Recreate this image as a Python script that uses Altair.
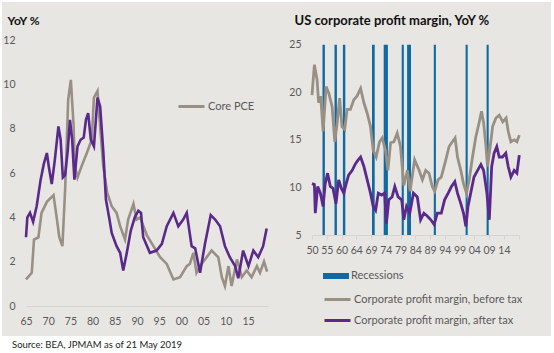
import altair as alt
import pandas as pd

# ---------------- Left panel: YoY % ----------------
pce_years = [1965.0, 1966.3, 1966.8, 1967.8, 1968.5, 1969.7, 1971.2, 1971.9, 1972.5, 1973.2,
             1973.8, 1974.2, 1974.5, 1975.1, 1975.7, 1976.0, 1976.6, 1977.5, 1978.7, 1979.8,
             1980.3, 1981.1, 1981.7, 1982.4, 1983.3, 1984.3, 1985.4, 1986.2, 1987.3, 1988.0,
             1989.2, 1989.9, 1990.7, 1992.2, 1993.7, 1995.2, 1996.7, 1998.2, 1999.7, 2001.2,
             2001.9, 2002.7, 2003.4, 2004.2, 2005.3, 2006.8, 2008.3, 2009.1, 2009.8, 2010.6,
             2011.3, 2012.5, 2013.6, 2014.7, 2015.8, 2017.0, 2017.7, 2018.6, 2019.3]
pce_values = [1.2, 1.5, 3.0, 3.1, 4.2, 4.7, 5.0, 4.0, 3.1, 2.7,
              5.2, 7.5, 9.3, 10.2, 8.2, 6.3, 5.8, 6.3, 6.9, 7.5,
              9.4, 9.7, 8.1, 6.3, 5.1, 4.5, 4.2, 3.6, 3.0, 3.9,
              4.6, 3.9, 4.0, 3.2, 2.7, 2.2, 1.9, 1.2, 1.3, 1.8,
              1.9, 2.4, 1.5, 1.8, 2.1, 2.5, 2.2, 1.3, 0.9, 1.8,
              0.9, 2.1, 1.3, 1.6, 1.3, 1.8, 1.5, 2.0, 1.55]

other_years = [1965.0, 1965.3, 1965.9, 1966.6, 1967.4, 1968.3, 1969.0, 1969.7, 1970.2, 1970.8,
               1971.5, 1972.3, 1972.8, 1973.3, 1973.8, 1974.4, 1974.9, 1975.4, 1975.9, 1976.6,
               1977.3, 1978.0, 1978.5, 1979.0, 1979.6, 1980.3, 1981.1, 1981.7, 1982.4, 1983.0,
               1983.8, 1984.3, 1985.4, 1986.2, 1986.9, 1987.7, 1988.6, 1989.5, 1990.3, 1990.9,
               1991.4, 1992.9, 1994.4, 1995.6, 1996.7, 1998.2, 1999.3, 2000.4, 2001.2, 2002.3,
               2003.1, 2004.2, 2005.3, 2006.6, 2007.6, 2008.7, 2009.8, 2010.9, 2012.1, 2012.8,
               2013.9, 2015.1, 2016.2, 2017.3, 2018.4, 2019.2]
other_values = [3.1, 4.0, 4.2, 3.8, 4.5, 5.7, 6.4, 6.9, 6.2, 5.5,
                6.6, 8.1, 7.5, 5.8, 5.9, 7.0, 8.4, 7.5, 5.7, 7.2,
                7.5, 7.6, 8.4, 8.7, 7.5, 7.2, 9.4, 9.0, 7.0, 4.8,
                3.9, 3.3, 2.7, 2.4, 1.6, 2.4, 3.4, 4.0, 4.3, 4.2,
                3.1, 2.4, 2.5, 2.8, 3.6, 4.2, 3.6, 3.9, 4.2, 2.7,
                2.6, 1.5, 2.8, 4.1, 3.9, 3.6, 2.7, 2.2, 1.8, 1.25,
                2.5, 1.8, 2.5, 2.2, 2.7, 3.5]

left_series = ["Core PCE", "Headline PCE"]
left_tick_years = [1965, 1970, 1975, 1980, 1985, 1990, 1995, 2000, 2005, 2010, 2015]
left_tick_labels = ["65", "70", "75", "80", "85", "90", "95", "00", "05", "10", "15"]
left_y_ticks = [0, 2, 4, 6, 8, 10, 12]

# ---------------- Right panel: US corporate profit margin ----------------
before_years = [1950.0, 1950.8, 1951.7, 1952.2, 1952.9, 1953.7, 1954.7, 1955.6, 1956.7, 1957.6,
                1958.4, 1959.2, 1960.0, 1960.9, 1961.7, 1962.8, 1963.9, 1965.0, 1966.2, 1967.3,
                1968.4, 1969.5, 1970.4, 1971.4, 1972.5, 1973.4, 1974.5, 1975.3, 1976.2, 1977.3,
                1978.4, 1979.5, 1980.6, 1981.8, 1982.7, 1984.2, 1985.7, 1986.8, 1987.9, 1989.0,
                1990.1, 1990.9, 1992.0, 1993.1, 1994.6, 1995.7, 1996.8, 1997.7, 1998.5, 1999.6,
                2000.5, 2001.5, 2002.4, 2003.5, 2004.6, 2005.7, 2006.5, 2007.2, 2008.0, 2008.5,
                2009.4, 2010.2, 2011.3, 2012.4, 2013.6, 2014.7, 2015.4, 2016.3, 2017.4, 2018.3,
                2019.1]
before_values = [19.7, 22.9, 21.3, 18.9, 19.6, 15.9, 20.6, 19.9, 18.5, 14.8,
                 16.8, 19.4, 16.4, 16.1, 18.2, 18.2, 19.2, 19.6, 20.4, 18.9,
                 17.8, 16.4, 13.9, 13.2, 14.8, 15.2, 13.9, 11.8, 14.7, 14.8,
                 15.7, 14.3, 10.2, 11.8, 9.6, 12.9, 11.8, 10.8, 11.8, 11.5,
                 10.1, 9.6, 10.8, 11.1, 12.9, 14.3, 14.8, 15.2, 13.2, 11.8,
                 10.4, 9.4, 10.8, 13.2, 15.3, 16.8, 18.0, 16.8, 14.3, 12.2,
                 14.3, 16.4, 17.3, 17.6, 16.9, 17.3, 15.9, 14.8, 15.0, 14.8,
                 15.5]

after_years = [1950.0, 1950.8, 1951.1, 1951.9, 1952.8, 1953.7, 1954.4, 1955.2, 1956.1, 1957.0,
               1958.0, 1958.9, 1959.8, 1960.6, 1961.4, 1962.2, 1963.4, 1964.5, 1965.4, 1966.2,
               1967.3, 1968.4, 1969.5, 1970.4, 1971.2, 1972.1, 1973.2, 1974.2, 1974.8, 1975.6,
               1976.7, 1977.6, 1978.7, 1979.9, 1980.6, 1981.5, 1982.6, 1983.8, 1985.1, 1986.2,
               1987.3, 1988.4, 1989.6, 1990.7, 1991.8, 1993.1, 1994.2, 1995.4, 1996.5, 1997.6,
               1998.5, 1999.6, 2000.5, 2001.3, 2002.0, 2002.9, 2004.0, 2005.2, 2006.3, 2007.2,
               2008.3, 2009.1, 2009.9, 2010.7, 2011.6, 2012.4, 2013.5, 2014.6, 2015.4, 2016.3,
               2017.4, 2018.3, 2019.1]
after_values = [10.4, 10.3, 7.3, 10.1, 9.4, 8.0, 10.4, 11.5, 10.1, 9.9,
                8.3, 10.8, 9.9, 9.4, 10.4, 11.3, 11.8, 12.5, 12.9, 13.2,
                12.2, 10.8, 9.4, 8.0, 7.6, 9.4, 9.2, 9.4, 6.2, 8.7,
                9.0, 10.1, 9.0, 8.7, 6.6, 8.0, 7.3, 9.4, 9.0, 6.6,
                7.3, 7.0, 6.6, 6.1, 7.3, 7.3, 8.7, 9.4, 10.1, 10.6,
                9.4, 8.3, 7.3, 5.9, 8.0, 9.4, 11.1, 11.8, 12.4, 11.8,
                9.4, 6.6, 12.2, 13.6, 14.3, 13.2, 13.2, 13.6, 12.2, 11.1,
                11.8, 11.5, 13.4]

rec_start = [1953.5, 1957.5, 1960.3, 1970.0, 1973.9, 1979.9, 1981.7, 1990.6, 2001.2, 2008.2]
rec_end = [1954.3, 1958.3, 1961.1, 1970.9, 1975.3, 1980.6, 1983.0, 1991.3, 2001.9, 2008.9]

right_series = ["Corporate profit margin, before tax", "Corporate profit margin, after tax"]
right_tick_labels = ["50", "55", "60", "64", "69", "74", "79", "84", "89", "94", "99", "04", "09", "14", ""]
right_y_ticks = [5, 10, 15, 20, 25]

# ---------------- styling ----------------
BG = "#e8e6e3"
GRAY = "#988f85"
PURPLE = "#59298b"
BLUE = "#0f69a2"
LABEL = "#595959"
FONT = "Lato"

left_df = pd.DataFrame({
    "year": pce_years + other_years,
    "value": pce_values + other_values,
    "series": [left_series[0]] * len(pce_years) + [left_series[1]] * len(other_years),
})
right_df = pd.DataFrame({
    "year": before_years + after_years,
    "value": before_values + after_values,
    "series": [right_series[0]] * len(before_years) + [right_series[1]] * len(after_years),
})
rec_df = pd.DataFrame({"start": rec_start, "end": rec_end, "label": ["Recessions"] * len(rec_start)})

left_label_expr = "[" + ",".join(f"'{s}'" for s in left_tick_labels) + "][round((datum.value - 1965) / 5)]"
step_r = 4.92
right_tick_pos = [round(1950 + i * step_r, 2) for i in range(len(right_tick_labels))]
right_label_expr = "[" + ",".join(f"'{s}'" for s in right_tick_labels) + f"][round((datum.value - 1950) / {step_r})]"

# ---- left chart ----
lx = alt.X("year:Q", scale=alt.Scale(domain=[1965, 2019.5], nice=False, zero=False),
           axis=alt.Axis(values=left_tick_years, labelExpr=left_label_expr, title=None,
                         domainColor="#d6d4d1", ticks=False, grid=False, labelPadding=10,
                         labelFontSize=10.5, labelColor=LABEL, labelFont=FONT, labelFlush=False,
                         labelOverlap=False, zindex=1))
ly = alt.Y("value:Q", scale=alt.Scale(domain=[0, 12], nice=False),
           axis=alt.Axis(values=left_y_ticks, domain=False, ticks=False, grid=False,
                         labelPadding=11, labelFontSize=10.5, labelColor=LABEL, labelFont=FONT,
                         title="YoY %", titleAngle=0, titleX=-19, titleY=-20, titleAlign="left",
                         titleBaseline="middle", titleFont=FONT, titleFontSize=12,
                         titleFontWeight="bold", titleColor="#111111", zindex=1))
lstroke = alt.Stroke("series:N", scale=alt.Scale(domain=left_series, range=[GRAY, PURPLE]),
                     legend=alt.Legend(values=[left_series[0]], orient="none", legendX=151, legendY=52,
                                       title=None, symbolType="stroke", symbolSize=676,
                                       symbolStrokeWidth=3, labelFont=FONT, labelFontSize=11,
                                       labelColor=LABEL, labelOffset=2, padding=0, labelLimit=300))

bg = alt.Chart(pd.DataFrame({"k": [0]})).mark_rect(color=BG).encode(
    x=alt.value(-24), x2=alt.value(525), y=alt.value(-38), y2=alt.value(296))
left_gray = alt.Chart(left_df).transform_filter(alt.datum.series == left_series[0]).mark_line(
    strokeWidth=2.6).encode(x=lx, y=ly, stroke=lstroke)
left_purple = alt.Chart(left_df).transform_filter(alt.datum.series == left_series[1]).mark_line(
    strokeWidth=2.6).encode(x=lx, y=ly, stroke=lstroke)
left = alt.layer(bg, left_gray, left_purple).properties(width=242, height=266)

# ---- right chart ----
r_xscale = alt.Scale(domain=[1950, 2019.0], nice=False, zero=False)
r_xaxis = alt.Axis(values=right_tick_pos, labelExpr=right_label_expr, title=None,
                   domainColor="#d6d4d1", tickColor="#d6d4d1", tickSize=4, grid=False,
                   labelPadding=6, labelFontSize=10.5, labelColor=LABEL, labelFont=FONT,
                   labelFlush=False, labelOverlap=False, labelBound=False, labelSeparation=0)
ry = alt.Y("value:Q", scale=alt.Scale(domain=[5, 25.5], nice=False, zero=False),
           axis=alt.Axis(values=right_y_ticks, domain=False, ticks=False, grid=False,
                         labelPadding=11, labelFontSize=10.5, labelColor=LABEL, labelFont=FONT,
                         title="US corporate profit margin, YoY %", titleAngle=0, titleX=-18,
                         titleY=-20, titleAlign="left", titleBaseline="middle", titleFont=FONT,
                         titleFontSize=13, titleFontWeight="bold", titleColor="#111111"))
rstroke = alt.Stroke("series:N", scale=alt.Scale(domain=right_series, range=[GRAY, PURPLE]),
                     legend=alt.Legend(orient="none", legendX=11, legendY=245, title=None,
                                       symbolType="stroke", symbolSize=676, symbolStrokeWidth=3,
                                       labelFont=FONT, labelFontSize=11, labelColor=LABEL,
                                       labelOffset=2, padding=0, rowPadding=-5, labelLimit=300))
rfill = alt.Fill("label:N", scale=alt.Scale(domain=["Recessions"], range=[BLUE]),
                 legend=alt.Legend(orient="none", legendX=11, legendY=223, title=None,
                                   symbolType="M-1,-0.23H1V0.23H-1Z", symbolSize=676,
                                   symbolStrokeWidth=0, labelFont=FONT, labelFontSize=11,
                                   labelColor=LABEL, labelOffset=2, padding=0, labelLimit=300))

bars = alt.Chart(rec_df).mark_rect().encode(
    x=alt.X("start:Q", scale=r_xscale, axis=r_xaxis),
    x2="end:Q", y=alt.datum(25), y2=alt.datum(5), fill=rfill)
r_before = alt.Chart(right_df).transform_filter(alt.datum.series == right_series[0]).mark_line(
    strokeWidth=2.8).encode(x=alt.X("year:Q", scale=r_xscale, axis=r_xaxis), y=ry, stroke=rstroke)
r_after = alt.Chart(right_df).transform_filter(alt.datum.series == right_series[1]).mark_line(
    strokeWidth=2.8).encode(x=alt.X("year:Q", scale=r_xscale, axis=r_xaxis), y=ry, stroke=rstroke)
right = alt.layer(bars, r_before, r_after).properties(width=207, height=195)

chart = alt.hconcat(left, right, spacing=44, bounds="flush").resolve_scale(
    stroke="independent", fill="independent", x="independent", y="independent").resolve_legend(
    stroke="independent", fill="independent").properties(
    title=alt.TitleParams("Source: BEA, JPMAM as of 21 May 2019", orient="bottom", anchor="start",
                          frame="bounds", dx=10, offset=4, fontSize=9.5, font=FONT,
                          fontWeight="normal", color="#222222"),
    padding={"left": 2, "top": 2, "right": 3, "bottom": 3},
    background="white",
).configure_view(stroke=None)

chart.save("out.html", embed_options={"renderer": "svg", "actions": False})
